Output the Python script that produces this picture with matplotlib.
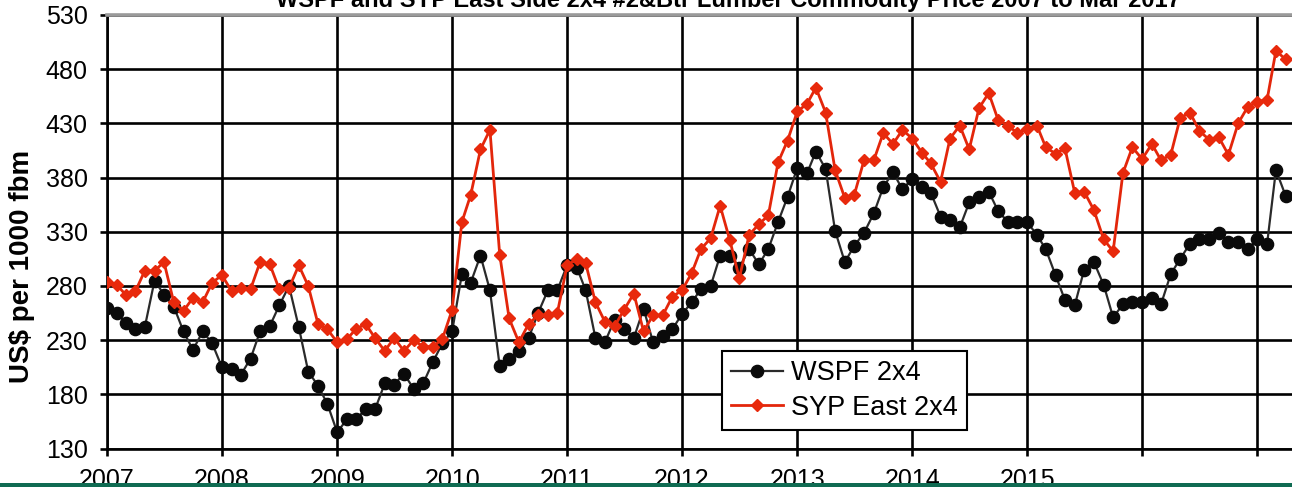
import datetime as dt

import matplotlib
matplotlib.use("Agg")
import matplotlib.pyplot as plt
import pandas as pd
from matplotlib.patches import Rectangle

# Monthly 2x4 #2&Btr commodity prices, US$ per 1000 fbm, Jan 2007 onwards
wspf_2x4 = [
    260, 255, 246, 240, 242, 285, 272, 261, 238, 221, 238, 227,   # 2007
    205, 203, 198, 213, 238, 243, 262, 280, 242, 201, 188, 171,   # 2008
    145, 157, 157, 166, 166, 190, 189, 199, 185, 190, 210, 227,   # 2009
    238, 291, 283, 308, 276, 206, 213, 220, 232, 255, 276, 276,   # 2010
    299, 297, 276, 232, 228, 249, 240, 232, 259, 228, 234, 240,   # 2011
    254, 265, 277, 280, 308, 308, 297, 314, 300, 314, 339, 362,   # 2012
    389, 384, 404, 388, 331, 302, 317, 329, 347, 371, 385, 369,   # 2013
    379, 371, 366, 344, 341, 334, 357, 362, 367, 349, 339, 339,   # 2014
    339, 327, 314, 290, 267, 262, 295, 302, 281, 251, 263, 265,   # 2015
    265, 269, 263, 291, 305, 319, 323, 323, 329, 321, 321, 314,   # 2016
    323, 319, 387, 363,                                           # 2017
]

syp_east_2x4 = [
    284, 281, 272, 275, 294, 294, 302, 265, 257, 269, 265, 283,   # 2007
    290, 275, 278, 277, 302, 300, 277, 278, 299, 280, 245, 240,   # 2008
    228, 231, 240, 245, 232, 220, 232, 220, 230, 224, 224, 231,   # 2009
    258, 339, 364, 406, 424, 309, 250, 228, 245, 253, 253, 255,   # 2010
    299, 305, 301, 265, 247, 243, 258, 273, 238, 253, 253, 270,   # 2011
    276, 292, 314, 324, 354, 322, 287, 327, 337, 345, 394, 414,   # 2012
    441, 448, 463, 440, 387, 361, 364, 396, 396, 421, 411, 424,   # 2013
    416, 403, 393, 376, 416, 428, 406, 444, 458, 433, 428, 421,   # 2014
    425, 428, 408, 402, 407, 366, 367, 350, 323, 312, 384, 408,   # 2015
    397, 411, 396, 401, 435, 440, 423, 415, 417, 401, 430, 445,   # 2016
    450, 452, 497, 489,                                           # 2017
]

series_names = ["WSPF 2x4", "SYP East 2x4"]
year_ticks = list(range(2007, 2018))
year_labels = ["2007", "2008", "2009", "2010", "2011", "2012", "2013",
               "2014", "2015", "", ""]
y_ticks = [130, 180, 230, 280, 330, 380, 430, 480, 530]
title_text = "WSPF and SYP East Side 2x4 #2&Btr Lumber Commodity Price 2007 to Mar 2017"
y_label = "US$ per 1000 fbm"

months = pd.date_range("2007-01-01", periods=len(wspf_2x4), freq="MS")

plt.rcParams["font.family"] = ["Liberation Sans", "DejaVu Sans"]

W, H = 1292, 487
fig = plt.figure(figsize=(W / 100, H / 100), dpi=100)
fig.patch.set_facecolor("white")

left_px, top_px, bottom_px = 107, 15, 448.5
ax = fig.add_axes([left_px / W, 1 - bottom_px / H,
                   (W - left_px) / W, (bottom_px - top_px) / H])

ax.plot(months, wspf_2x4, color="#2a2a2a", lw=1.6, marker="o", ms=8.8,
        mfc="#0a0a0a", mec="#0a0a0a", label=series_names[0], zorder=3)
ax.plot(months, syp_east_2x4, color="#e3260b", lw=2.0, marker="D", ms=6.5,
        mfc="#e8290c", mec="#e8290c", label=series_names[1], zorder=4)

ax.set_ylim(130, 530)
ax.set_yticks(y_ticks)
ax.set_xlim(dt.date(2007, 1, 1), dt.date(2017, 4, 21))
ax.set_xticks([dt.date(y, 1, 1) for y in year_ticks])
ax.set_xticklabels(year_labels)

ax.grid(True, color="black", lw=1.9)
ax.set_axisbelow(True)
ax.tick_params(axis="both", direction="out", length=5, width=1.9,
               color="black", labelsize=18)
ax.tick_params(axis="y", pad=9)
ax.tick_params(axis="x", pad=9)

for side in ("left", "bottom"):
    ax.spines[side].set_color("black")
    ax.spines[side].set_linewidth(1.9)
ax.spines["right"].set_visible(False)
ax.spines["top"].set_color("#9a9a9a")
ax.spines["top"].set_linewidth(2.6)

leg = ax.legend(loc="upper left",
                bbox_to_anchor=(722 / W, 1 - 351 / H),
                bbox_transform=fig.transFigure,
                borderaxespad=0, fancybox=False, framealpha=1,
                edgecolor="black", fontsize=19.5, handlelength=1.9,
                handletextpad=0.3, borderpad=0.35, labelspacing=0.3)
leg.get_frame().set_linewidth(1.5)

fig.text(22 / W, 1 - 266 / H, y_label, rotation=90, ha="center",
         va="center", fontsize=20, fontweight="bold")
fig.text(728 / W, 1 - 7 / H, title_text, ha="center", va="baseline",
         fontsize=17, fontweight="bold")

# dark green band along the lower edge
fig.add_artist(Rectangle((0, 0), 1, 4.5 / H, transform=fig.transFigure,
                         facecolor="#0f6b52", edgecolor="none", zorder=10))

fig.savefig("out.png", dpi=100)
